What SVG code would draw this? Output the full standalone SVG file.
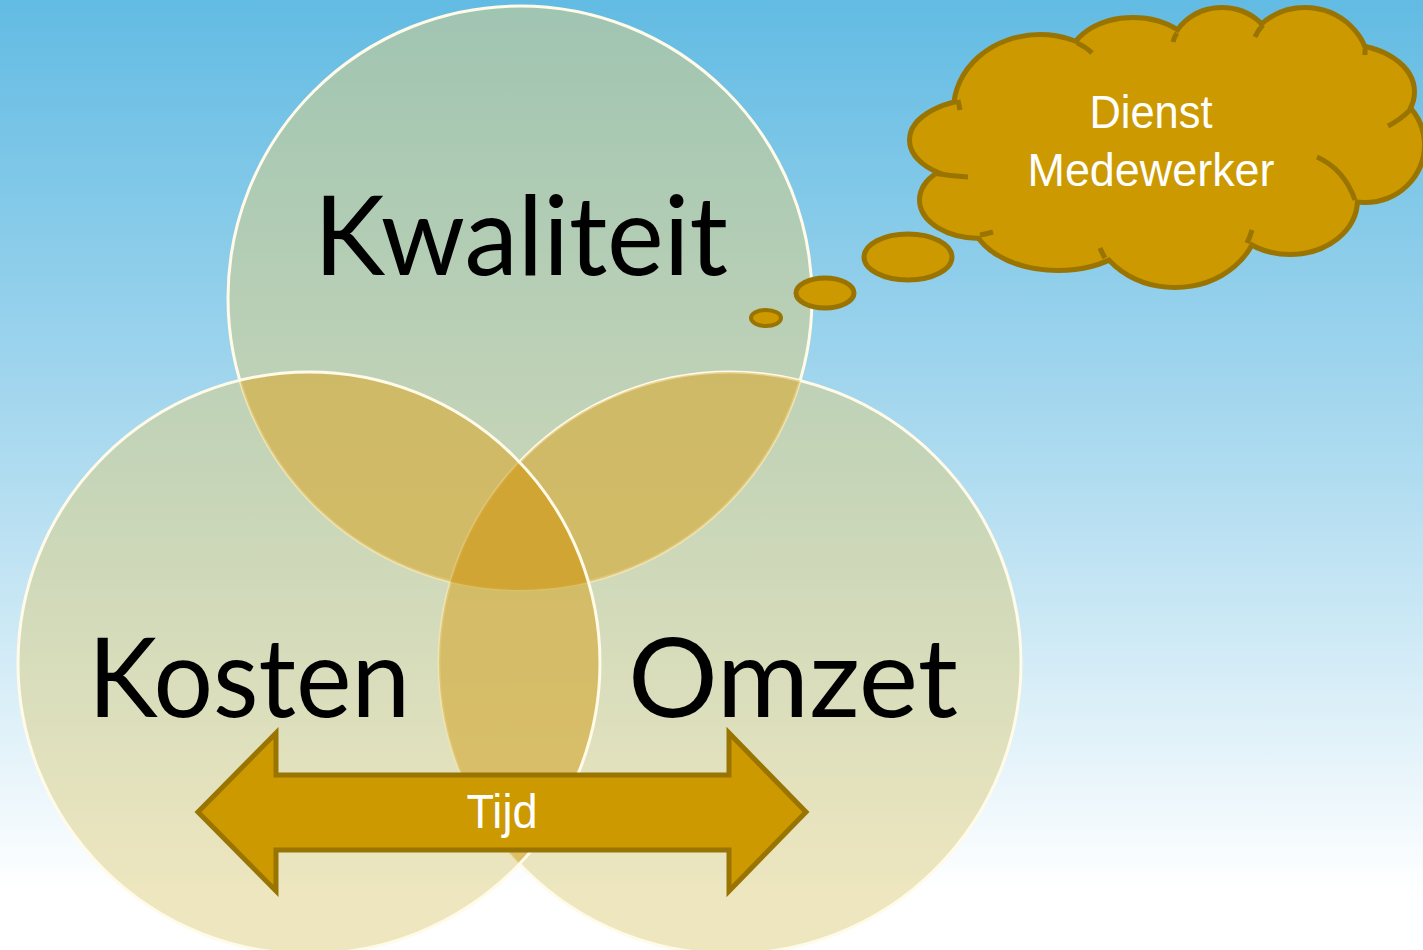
<svg xmlns="http://www.w3.org/2000/svg" xmlns:xlink="http://www.w3.org/1999/xlink" width="1423" height="950" viewBox="0 0 1423 950">
  <style>
    .circ { fill: #dccd80; fill-opacity: 0.5; }
    .rim { fill: none; stroke: #fffbe8; stroke-width: 3; }
    .lens { fill: #d09a20; fill-opacity: 0.42; }
    .big { font-family: Lato, "Open Sans", sans-serif; font-size: 111px; fill: #000; }
    .white { font-family: "Liberation Sans", Arial, sans-serif; fill: #ffffff; text-anchor: middle; }
    .gold { fill: #cc9900; stroke: #9a7400; }
    .stub { fill: none; stroke: #9a7400; stroke-width: 5; stroke-linecap: butt; }
  </style>
  <defs>
    <linearGradient id="sky" x1="0" y1="0" x2="0" y2="1">
      <stop offset="0" stop-color="#62bbe3"/>
      <stop offset="0.5" stop-color="#b0dcf0"/>
      <stop offset="0.94" stop-color="#ffffff"/>
      <stop offset="1" stop-color="#ffffff"/>
    </linearGradient>
    <circle id="cTop" cx="520" cy="298" r="292"/>
    <circle id="cLeft" cx="309" cy="663" r="291"/>
    <circle id="cRight" cx="730" cy="663" r="291"/>
    <clipPath id="clipTop"><use xlink:href="#cTop"/></clipPath>
    <clipPath id="clipLeft"><use xlink:href="#cLeft"/></clipPath>
    <g id="cloudShapes">
      <ellipse cx="985" cy="140" rx="73" ry="39"/>
      <ellipse cx="980" cy="200" rx="58" ry="36"/>
      <ellipse cx="1058" cy="215" rx="85" ry="53"/>
      <ellipse cx="1175" cy="215" rx="82" ry="70"/>
      <ellipse cx="1290" cy="200" rx="65" ry="52"/>
      <ellipse cx="1365" cy="145" rx="57" ry="55"/>
      <ellipse cx="1345" cy="92" rx="67" ry="45"/>
      <ellipse cx="1305" cy="70" rx="62" ry="60"/>
      <ellipse cx="1222" cy="55" rx="50" ry="45"/>
      <ellipse cx="1133" cy="62" rx="62" ry="42"/>
      <ellipse cx="1040" cy="110" rx="84" ry="73"/>
      <ellipse cx="1170" cy="150" rx="170" ry="95"/>
    </g>
  </defs>

  <rect id="background" x="0" y="0" width="1423" height="950" fill="url(#sky)"/>

  <g id="circle-kwaliteit">
    <use xlink:href="#cTop" class="circ"/>
    <use xlink:href="#cTop" class="rim"/>
  </g>
  <g id="circle-omzet">
    <use xlink:href="#cRight" class="circ"/>
    <use xlink:href="#cRight" class="rim"/>
  </g>
  <g id="circle-kosten">
    <use xlink:href="#cLeft" class="circ"/>
  </g>
  <g id="overlaps">
    <use xlink:href="#cLeft" class="lens" clip-path="url(#clipTop)"/>
    <use xlink:href="#cRight" class="lens" clip-path="url(#clipTop)"/>
    <use xlink:href="#cRight" class="lens" clip-path="url(#clipLeft)"/>
  </g>
  <use xlink:href="#cLeft" class="rim"/>

  <g id="connectors">
    <ellipse class="gold" cx="908" cy="257" rx="44" ry="23" stroke-width="5"/>
    <ellipse class="gold" cx="825" cy="293" rx="29" ry="15" stroke-width="5"/>
    <ellipse class="gold" cx="766" cy="318" rx="15" ry="8" stroke-width="4"/>
  </g>

  <g id="cloud">
    <use xlink:href="#cloudShapes" fill="#cc9900" stroke="#9a7400" stroke-width="10"/>
    <use xlink:href="#cloudShapes" fill="#cc9900"/>
    <path class="stub" d="M960 110 L958 100"/>
    <path class="stub" d="M1077 43 Q1086 47 1092 53"/>
    <path class="stub" d="M1177 33 Q1174 37 1173 42"/>
    <path class="stub" d="M1263 25 Q1258 30 1255 37"/>
    <path class="stub" d="M1365 49 L1365 55"/>
    <path class="stub" d="M1410 110 Q1400 120 1388 126"/>
    <path class="stub" d="M1317 157 Q1344 169 1355 200"/>
    <path class="stub" d="M1252 230 Q1250 237 1247 243"/>
    <path class="stub" d="M1100 248 Q1102 253 1105 258"/>
    <path class="stub" d="M993 232 Q986 234 980 235"/>
    <path class="stub" d="M968 177 Q950 176 933 173"/>
    <text class="white" x="1151" y="128" font-size="46" textLength="123" lengthAdjust="spacingAndGlyphs">Dienst</text>
    <text class="white" x="1151" y="186" font-size="47" textLength="247" lengthAdjust="spacingAndGlyphs">Medewerker</text>
  </g>

  <g id="arrow-tijd">
    <path class="gold" stroke-width="5" stroke-linejoin="miter" d="M198 812 L276 733 L276 775 L729 775 L729 733 L806 812 L729 891 L729 850 L276 850 L276 891 Z"/>
    <text class="white" x="502" y="828" font-size="49" textLength="71" lengthAdjust="spacingAndGlyphs">Tijd</text>
  </g>

  <g id="label-kwaliteit">
    <text class="big" x="314" y="275" textLength="414" lengthAdjust="spacingAndGlyphs">Kwaliteit</text>
  </g>
  <g id="label-kosten">
    <text class="big" x="88" y="717" textLength="322" lengthAdjust="spacingAndGlyphs">Kosten</text>
  </g>
  <g id="label-omzet">
    <text class="big" x="628" y="717" textLength="330" lengthAdjust="spacingAndGlyphs">Omzet</text>
  </g>
</svg>
